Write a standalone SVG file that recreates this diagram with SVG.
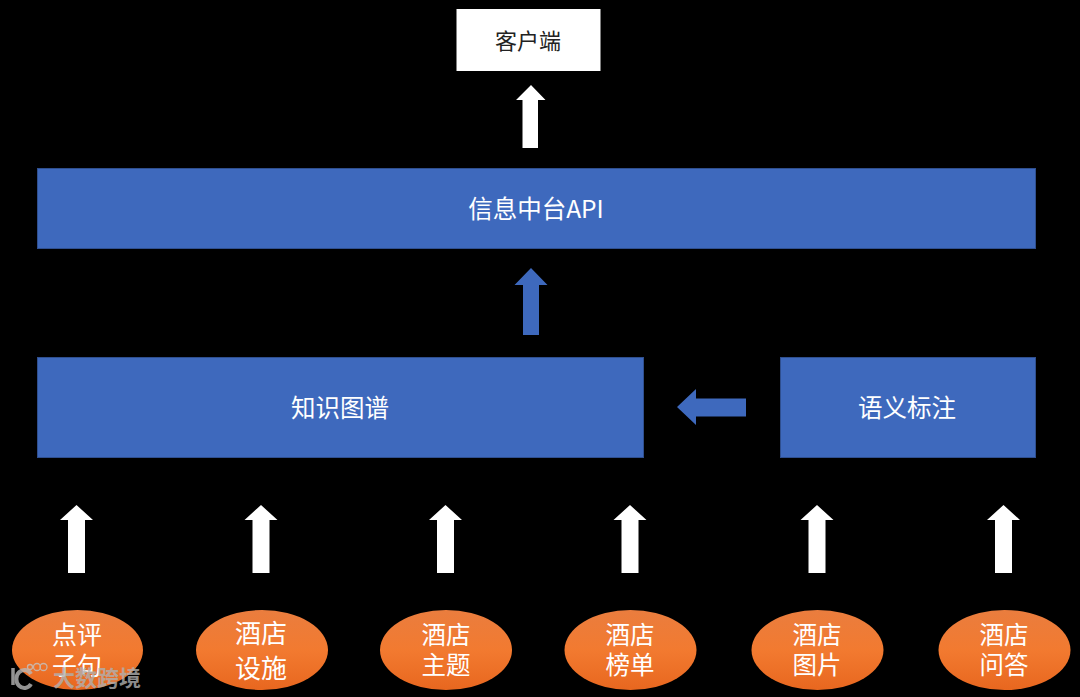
<svg xmlns="http://www.w3.org/2000/svg" width="1080" height="697" viewBox="0 0 1080 697">
<style>
text{font-family:"Noto Sans CJK SC","Noto Sans",sans-serif;text-anchor:middle;fill:#fff}
.b{fill:#3e69bd;stroke:#2f4f8f;stroke-width:1}
.w{fill:#fff}
.a{fill:#3e69bd}
.o{fill:url(#og)}
.t{font-size:24.500px}
.e{font-size:25px}
</style>
<defs>
<linearGradient id="og" x1="0" y1="0" x2="0" y2="1"><stop offset="0" stop-color="#ea7d3e"/><stop offset="0.5" stop-color="#f27a30"/><stop offset="1" stop-color="#e8671f"/></linearGradient>
</defs>
<rect width="1080" height="697" fill="#000"/>
<g id="connectors">
<path class="w" d="M531 85L545.500 100H538V148H522.500V100H516Z"/>
<path class="a" d="M531 268L547.500 285H539V335H523V285H514.500Z"/>
<path class="a" d="M677 407L696 389V398.500H746V416.500H696V425Z"/>
<path class="w" d="M76.500 505L93 520H85V573H68V520H60Z"/>
<path class="w" d="M261 505L277.500 520H269.500V573H252.500V520H244.500Z"/>
<path class="w" d="M445.500 505L462 520H454V573H437V520H429Z"/>
<path class="w" d="M630 505L646.500 520H638.500V573H621.500V520H613.500Z"/>
<path class="w" d="M817 505L833.500 520H825.500V573H808.500V520H800.500Z"/>
<path class="w" d="M1003.500 505L1020 520H1012V573H995V520H987Z"/>
</g>
<g id="client"><rect x="456.500" y="9" width="144" height="62" class="w"/><text x="528" y="49" style="fill:#222" font-size="22">客户端</text></g>
<g id="api"><rect x="37.500" y="168.500" width="998" height="80" class="b"/><text x="536" y="218" class="t">信息中台API</text></g>
<g id="kg"><rect x="37.500" y="357.500" width="606" height="100" class="b"/><text x="340" y="417" class="t">知识图谱</text></g>
<g id="semantic"><rect x="780.500" y="357.500" width="255" height="100" class="b"/><text x="907" y="417" class="t">语义标注</text></g>
<g id="n1"><ellipse cx="77.500" cy="650" rx="65.500" ry="40" class="o"/><text x="77" y="644" class="e">点评</text><text x="77" y="675" class="e">子句</text></g>
<g id="n2"><ellipse cx="262" cy="650" rx="66" ry="40" class="o"/><text x="261" y="643" style="font-size:26px">酒店</text><text x="261" y="678" style="font-size:26px">设施</text></g>
<g id="n3"><ellipse cx="446" cy="650" rx="66" ry="40" class="o"/><text x="446" y="644" class="t">酒店</text><text x="446" y="674" class="t">主题</text></g>
<g id="n4"><ellipse cx="630.500" cy="650" rx="66" ry="40" class="o"/><text x="630" y="644" class="t">酒店</text><text x="630" y="674" class="t">榜单</text></g>
<g id="n5"><ellipse cx="817.500" cy="650" rx="66" ry="40" class="o"/><text x="817" y="644" class="t">酒店</text><text x="817" y="674" class="t">图片</text></g>
<g id="n6"><ellipse cx="1004.500" cy="650" rx="66" ry="40" class="o"/><text x="1004" y="644" class="t">酒店</text><text x="1004" y="674" class="t">问答</text></g>
<g id="watermark" opacity="0.8">
<path d="M13 668V685" stroke="#b8b8b8" stroke-width="3.500" fill="none"/>
<path d="M31 674A8 9 0 1 0 31 684" stroke="#b8b8b8" stroke-width="4" fill="none"/>
<g fill="none" stroke="#c4c4c4" stroke-width="1.300"><circle cx="30" cy="667" r="2.500"/><circle cx="37" cy="667" r="3.500"/><circle cx="43.500" cy="667" r="3.500"/></g>
<text x="97" y="686" font-size="22" font-weight="700" style="fill:#b0b0b0">大数跨境</text>
</g>
</svg>
